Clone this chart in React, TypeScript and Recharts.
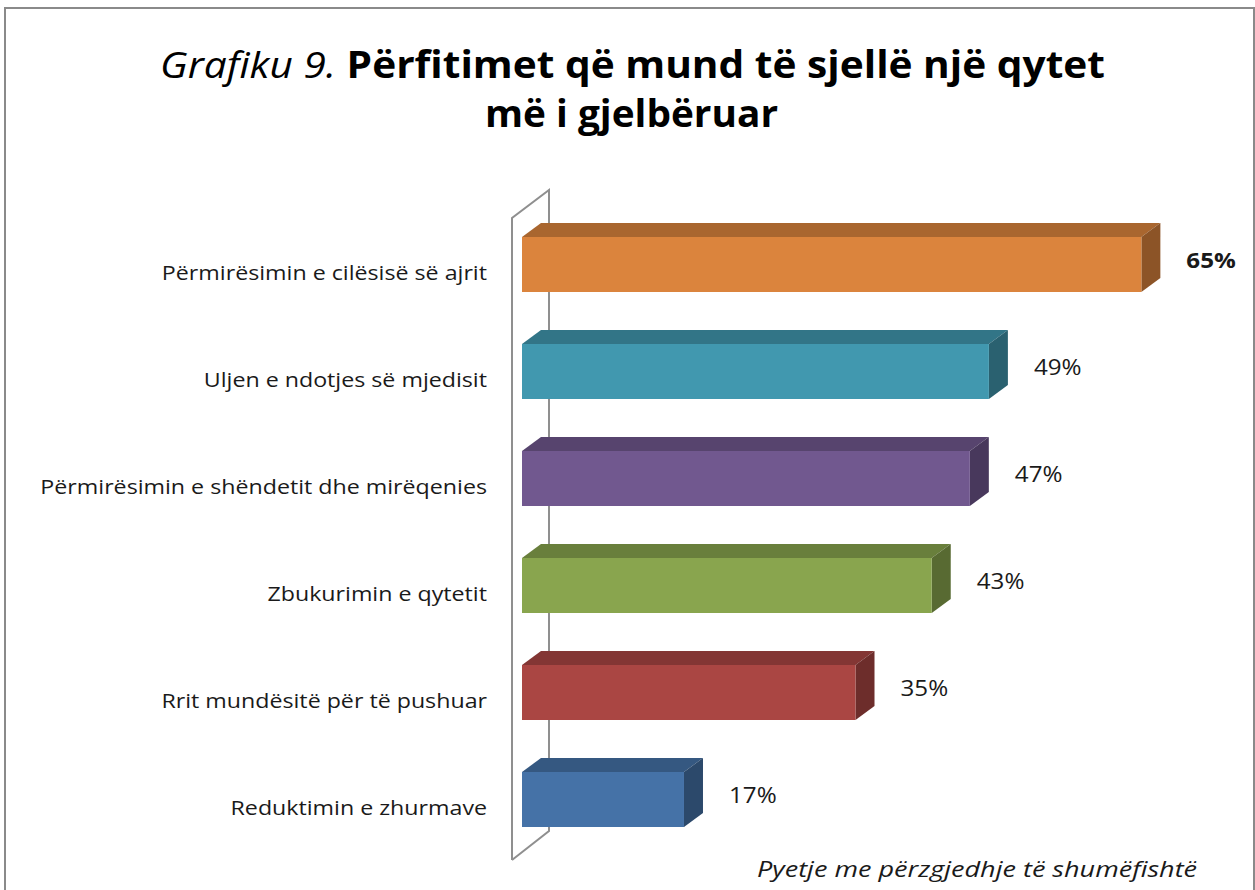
import React from "react"
import * as R from "recharts"

const { BarChart, Bar, XAxis, YAxis, Cell, LabelList } = R

// data
const categories = [
  "Përmirësimin e cilësisë së ajrit",
  "Uljen e ndotjes së mjedisit",
  "Përmirësimin e shëndetit dhe mirëqenies",
  "Zbukurimin e qytetit",
  "Rrit mundësitë për të pushuar",
  "Reduktimin e zhurmave",
]
const values = [65, 49, 47, 43, 35, 17]
const barColors = ["#DB843D", "#4198AF", "#71588F", "#89A54E", "#AA4643", "#4572A7"]

const titleItalic = "Grafiku 9."
const titleLine1 = "Përfitimet që mund të sjellë një qytet"
const titleLine2 = "më i gjelbëruar"
const footnote = "Pyetje me përzgjedhje të shumëfishtë"

const data = categories.map((name, i) => ({ name, value: values[i] }))
const maxValue = Math.max(...values)

const W = 1255
const H = 890
const MARGIN = { top: 211, right: 66, bottom: 37, left: 0 }
const Y_AXIS_W = 522
const DX = 19
const DY = 14
const STRETCH = 1.19 // the source picture is a little wider than the font
const FONT = "'Open Sans', sans-serif"

function shade(hex: string, f: number) {
  const n = parseInt(hex.slice(1), 16)
  const r = Math.round(((n >> 16) & 255) * f)
  const g = Math.round(((n >> 8) & 255) * f)
  const b = Math.round((n & 255) * f)
  return `rgb(${r},${g},${b})`
}

function Box3D(props: any) {
  const { x, y, width, height, fill } = props
  const top = shade(fill, 0.77)
  const side = shade(fill, 0.64)
  return (
    <g>
      <polygon
        points={`${x},${y} ${x + DX},${y - DY} ${x + width + DX},${y - DY} ${x + width},${y}`}
        fill={top}
      />
      <polygon
        points={`${x + width},${y} ${x + width + DX},${y - DY} ${x + width + DX},${y + height - DY} ${x + width},${y + height}`}
        fill={side}
      />
      <rect x={x} y={y} width={width} height={height} fill={fill} />
    </g>
  )
}

function ValueLabel(props: any) {
  const { x, y, width, height, value } = props
  const tx = x + width + DX + 26
  const ty = y + height / 2 - 5
  return (
    <text
      transform={`translate(${tx},${ty}) scale(1.1,1)`}
      dominantBaseline="central"
      fontFamily={FONT}
      fontSize={22}
      fontWeight={value === maxValue ? 700 : 400}
      fill="#1a1a1a"
    >
      {value}%
    </text>
  )
}

function CategoryTick(props: any) {
  const { x, y, payload } = props
  return (
    <text
      transform={`translate(${x - 27},${y + 8}) scale(${STRETCH},1)`}
      textAnchor="end"
      dominantBaseline="central"
      fontFamily={FONT}
      fontSize={19.5}
      fill="#1a1a1a"
    >
      {payload.value}
    </text>
  )
}

// the 3d side wall, taken from the plot area
function Wall() {
  const hook = (R as any).usePlotArea
  const area = hook ? hook() : null
  const p = area || {
    x: MARGIN.left + Y_AXIS_W,
    y: MARGIN.top,
    width: W - MARGIN.left - MARGIN.right - Y_AXIS_W,
    height: H - MARGIN.top - MARGIN.bottom,
  }
  const fx = p.x - 10
  const fy = p.y + 7
  const bx = p.x + 27
  const by = p.y - 21
  const h = p.height
  return (
    <path
      d={`M${fx},${fy + h} L${fx},${fy} L${bx},${by} L${bx},${by + h - 1} L${fx},${fy + h}`}
      fill="none"
      stroke="#8f8f8f"
      strokeWidth={2}
    />
  )
}

export default function App() {
  return (
    <div style={{ position: "fixed", left: 0, top: 0, width: W, height: H, overflow: "hidden", background: "#fff" }}>
      <div
        style={{
          position: "absolute",
          left: 4,
          top: 7,
          width: 1247,
          height: 900,
          borderTop: "2px solid #8a8a8a",
          borderLeft: "2px solid #8a8a8a",
          borderRight: "2px solid #8a8a8a",
        }}
      />
      <svg width={W} height={H} style={{ position: "absolute", left: 0, top: 0 }}>
        <text
          x={160}
          y={78}
          textLength={945}
          lengthAdjust="spacingAndGlyphs"
          fontFamily={FONT}
          fontSize={37}
          fill="#000"
        >
          <tspan fontStyle="italic">{titleItalic} </tspan>
          <tspan fontWeight={700}>{titleLine1}</tspan>
        </text>
        <text
          x={485}
          y={127}
          textLength={293}
          lengthAdjust="spacingAndGlyphs"
          fontFamily={FONT}
          fontSize={37}
          fontWeight={700}
          fill="#000"
        >
          {titleLine2}
        </text>
        <text
          x={757}
          y={877}
          textLength={440}
          lengthAdjust="spacingAndGlyphs"
          fontFamily={FONT}
          fontSize={21}
          fontStyle="italic"
          fill="#1a1a1a"
        >
          {footnote}
        </text>
      </svg>
      <div style={{ position: "absolute", left: 0, top: 0 }}>
        <BarChart width={W} height={H} data={data} layout="vertical" margin={MARGIN}>
          <XAxis type="number" domain={[0, 70]} hide />
          <YAxis
            type="category"
            dataKey="name"
            width={Y_AXIS_W}
            axisLine={false}
            tickLine={false}
            tick={<CategoryTick />}
            interval={0}
          />
          <Wall />
          <Bar dataKey="value" barSize={55} shape={<Box3D />} isAnimationActive={false}>
            {data.map((d, i) => (
              <Cell key={d.name} fill={barColors[i]} />
            ))}
            <LabelList dataKey="value" content={<ValueLabel />} />
          </Bar>
        </BarChart>
      </div>
    </div>
  )
}
